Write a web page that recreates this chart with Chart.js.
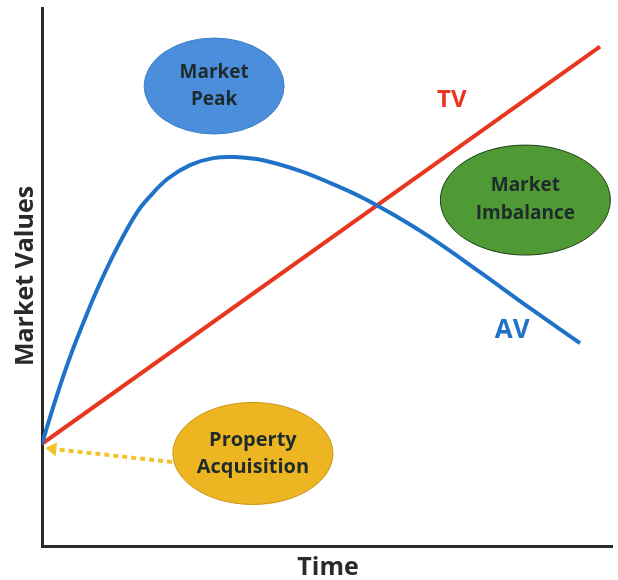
<!DOCTYPE html>
<html>
<head>
<meta charset="utf-8">
<script src="https://cdn.jsdelivr.net/npm/chart.js@4.4.1/dist/chart.umd.min.js"></script>
<style>
  html, body { margin: 0; padding: 0; background: #ffffff; }
  #wrap { width: 618px; height: 580px; position: relative; }
</style>
</head>
<body>
<div id="wrap"><canvas id="c" width="618" height="580"></canvas></div>
<script>
// ---- Data (arbitrary units: time 0-100, market value 0-100) ----
const avTime   = [0, 2.46, 4.91, 7.37, 9.82, 13.16, 16.67, 18.95, 22.1, 25.96, 30.0, 33.86, 38.77, 44.74, 50.53, 56.32, 62.28, 68.07, 76.84, 85.61, 94.39];
const avValue  = [19.0, 27.5, 35.1, 41.8, 48.0, 55.4, 62.0, 65.0, 68.3, 70.8, 72.1, 72.3, 71.7, 69.9, 67.5, 64.7, 61.2, 57.4, 50.9, 44.2, 37.7];
const tvTime   = [0, 97.9];
const tvValue  = [19.0, 92.8];
const seriesLabels = ["AV", "TV"];
const axisTitles = { x: "Time", y: "Market Values" };

// Callout bubbles (centre given in data units)
const bubbleText   = [["Market", "Peak"], ["Market", "Imbalance"], ["Property", "Acquisition"]];
const bubbleCentre = [[30.2, 85.5], [84.8, 64.3], [37.0, 17.2]];
const arrowFrom = [22.8, 15.6];
const arrowTo   = [0.6, 18.2];
const labelPos  = { TV: [71.9, 82.9], AV: [82.5, 40.1] };

const toXY = (xs, ys) => xs.map((x, i) => ({ x: x, y: ys[i] }));

const decor = {
  id: 'decor',
  afterDatasetsDraw(chart) {
    const ctx = chart.ctx;
    const xs = chart.scales.x, ys = chart.scales.y;
    const px = v => xs.getPixelForValue(v);
    const py = v => ys.getPixelForValue(v);
    const font = (s) => `bold ${s}px "Open Sans", "DejaVu Sans", sans-serif`;
    ctx.save();

    // dotted arrow
    const ax0 = px(arrowFrom[0]), ay0 = py(arrowFrom[1]);
    const ax1 = px(arrowTo[0]),   ay1 = py(arrowTo[1]);
    const ang = Math.atan2(ay1 - ay0, ax1 - ax0);
    const headLen = 11;
    ctx.strokeStyle = '#F3C32B';
    ctx.lineWidth = 4;
    ctx.setLineDash([5, 4]);
    ctx.beginPath();
    ctx.moveTo(ax0, ay0);
    ctx.lineTo(ax1 - Math.cos(ang) * headLen, ay1 - Math.sin(ang) * headLen);
    ctx.stroke();
    ctx.setLineDash([]);
    ctx.fillStyle = '#F3C32B';
    ctx.beginPath();
    ctx.moveTo(ax1, ay1);
    ctx.lineTo(ax1 - Math.cos(ang) * headLen - Math.sin(ang) * 7, ay1 - Math.sin(ang) * headLen + Math.cos(ang) * 7);
    ctx.lineTo(ax1 - Math.cos(ang) * headLen + Math.sin(ang) * 7, ay1 - Math.sin(ang) * headLen - Math.cos(ang) * 7);
    ctx.closePath();
    ctx.fill();

    // bubbles
    const styles = [
      { fill: '#4A8EDC', stroke: '#3F7FC8', rx: 70, ry: 48, fs: 19, gap: 27 },
      { fill: '#4F9A35', stroke: '#1F3D16', rx: 85, ry: 55, fs: 19, gap: 28 },
      { fill: '#EDB521', stroke: '#C99410', rx: 80, ry: 51, fs: 20, gap: 27 }
    ];
    bubbleCentre.forEach((c, i) => {
      const st = styles[i];
      const cx = px(c[0]), cy = py(c[1]);
      ctx.beginPath();
      ctx.ellipse(cx, cy, st.rx, st.ry, 0, 0, Math.PI * 2);
      ctx.fillStyle = st.fill;
      ctx.fill();
      ctx.lineWidth = 1;
      ctx.strokeStyle = st.stroke;
      ctx.stroke();
      ctx.fillStyle = '#1E2B2B';
      ctx.font = font(st.fs);
      ctx.textAlign = 'center';
      ctx.textBaseline = 'middle';
      const lines = bubbleText[i];
      lines.forEach((t, k) => {
        ctx.fillText(t, cx, cy + (k - (lines.length - 1) / 2) * st.gap);
      });
    });

    // series labels
    ctx.textAlign = 'center';
    ctx.textBaseline = 'middle';
    ctx.font = font(24);
    ctx.fillStyle = '#E8361F';
    ctx.fillText(seriesLabels[1], px(labelPos.TV[0]), py(labelPos.TV[1]));
    ctx.font = font(26);
    ctx.fillStyle = '#1F72C8';
    ctx.fillText(seriesLabels[0], px(labelPos.AV[0]), py(labelPos.AV[1]));

    // axis titles
    ctx.fillStyle = '#2A2A2A';
    ctx.font = font(25);
    ctx.fillText(axisTitles.x, (chart.chartArea.left + chart.chartArea.right) / 2 + 1, chart.chartArea.bottom + 22);
    ctx.save();
    ctx.translate(chart.chartArea.left - 16, 276);
    ctx.rotate(-Math.PI / 2);
    ctx.fillText(axisTitles.y, 0, 0);
    ctx.restore();

    ctx.restore();
  }
};

new Chart(document.getElementById('c'), {
  type: 'scatter',
  data: {
    datasets: [
      { label: seriesLabels[0], data: toXY(avTime, avValue), showLine: true, borderColor: '#1F72C8', borderWidth: 4, pointRadius: 0, tension: 0.4, fill: false },
      { label: seriesLabels[1], data: toXY(tvTime, tvValue), showLine: true, borderColor: '#E8361F', borderWidth: 4, pointRadius: 0, tension: 0, fill: false }
    ]
  },
  options: {
    responsive: false,
    animation: false,
    events: [],
    layout: { padding: { left: 42, top: 8, right: 6, bottom: 34 } },
    plugins: { legend: { display: false }, tooltip: { enabled: false } },
    scales: {
      x: {
        type: 'linear', min: 0, max: 100,
        grid: { display: false, drawTicks: false },
        ticks: { display: false },
        border: { display: true, color: '#2A2A2A', width: 3 }
      },
      y: {
        type: 'linear', min: 0, max: 100,
        grid: { display: false, drawTicks: false },
        ticks: { display: false },
        border: { display: true, color: '#2A2A2A', width: 3 }
      }
    }
  },
  plugins: [decor]
});
</script>
</body>
</html>
